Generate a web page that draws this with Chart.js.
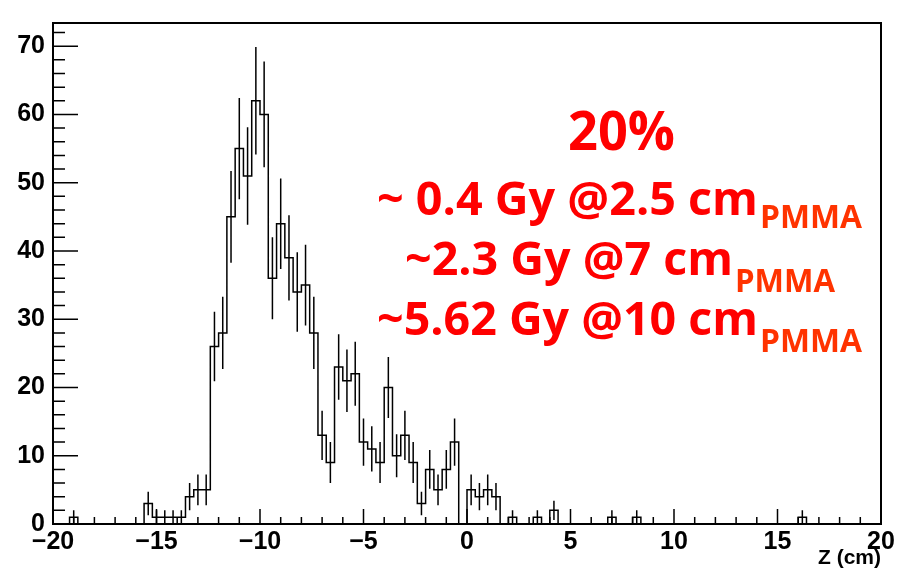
<!DOCTYPE html>
<html>
<head>
<meta charset="utf-8">
<script src="https://cdn.jsdelivr.net/npm/chart.js@4"></script>
<style>
  html, body { margin: 0; padding: 0; background: #fff; }
</style>
</head>
<body>
<canvas id="zChart" width="908" height="579"></canvas>
<script>
// histogram: 100 bins of 0.4 cm from -20 to 20 cm
const xMin = -20;
const xMax = 20;
const binWidth = 0.4;
const counts = [
  0, 0, 1, 0, 0, 0, 0, 0, 0, 0,
  0, 3, 1, 1, 1, 1, 4, 5, 5, 26,
  28, 45, 55, 51, 62, 60, 36, 44, 39, 34,
  35, 28, 13, 9, 23, 21, 22, 12, 11, 9,
  20, 10, 13, 9, 3, 8, 5, 8, 12, 0,
  5, 4, 5, 4, 0, 1, 0, 0, 1, 0,
  2, 0, 0, 0, 0, 0, 0, 1, 0, 0,
  1, 0, 0, 0, 0, 0, 0, 0, 0, 0,
  0, 0, 0, 0, 0, 0, 0, 0, 0, 0,
  1, 0, 0, 0, 0, 0, 0, 0, 0, 0
];
const xTicks = [-20, -15, -10, -5, 0, 5, 10, 15, 20];
const yTicks = [0, 10, 20, 30, 40, 50, 60, 70];
const yMax = 73.4;
const xTitle = 'Z (cm)';
const noteMain = ['20%', '~ 0.4 Gy @2.5 cm', '~2.3 Gy @7 cm', '~5.62 Gy @10 cm'];
const noteSub = ['', 'PMMA', 'PMMA', 'PMMA'];

// outline points at bin low edges, last one closes the final bin
const histPts = counts.map((n, i) => ({ x: xMin + i * binWidth, y: n }));
histPts.push({ x: xMax, y: counts[counts.length - 1] });

// sqrt(N) error bars, separated by gaps
const errPts = [];
counts.forEach((n, i) => {
  if (n <= 0) return;
  const c = xMin + (i + 0.5) * binWidth;
  const e = Math.sqrt(n);
  errPts.push({ x: c, y: n - e }, { x: c, y: n + e }, { x: c, y: null });
});

const axisFont = { family: '"Liberation Sans", Arial, sans-serif', size: 25, weight: 'bold' };

// ROOT style frame with inward ticks
const rootFrame = {
  id: 'rootFrame',
  afterDraw(chart) {
    const { ctx, chartArea: a, scales: { x, y } } = chart;
    ctx.save();
    ctx.strokeStyle = '#000';
    ctx.lineWidth = 1.5;
    ctx.beginPath();
    for (let v = xMin; v <= xMax; v++) {
      const px = x.getPixelForValue(v);
      const len = xTicks.includes(v) ? 15 : 7;
      ctx.moveTo(px, a.bottom);
      ctx.lineTo(px, a.bottom - len);
    }
    for (let v = 0; v <= yMax; v += 2) {
      const py = y.getPixelForValue(v);
      const len = yTicks.includes(v) ? 25 : 12;
      ctx.moveTo(a.left, py);
      ctx.lineTo(a.left + len, py);
    }
    ctx.stroke();
    ctx.lineWidth = 2;
    ctx.strokeRect(a.left, a.top, a.right - a.left, a.bottom - a.top);
    ctx.restore();
  }
};

function fitText(ctx, str, left, right, base, size, color) {
  ctx.font = 'bold ' + size + 'px "Open Sans", sans-serif';
  const w = ctx.measureText(str).width;
  ctx.save();
  ctx.translate(left, base);
  ctx.scale((right - left) / w, 1);
  ctx.fillStyle = color;
  ctx.textAlign = 'left';
  ctx.textBaseline = 'alphabetic';
  ctx.fillText(str, 0, 0);
  ctx.restore();
}

const notes = {
  id: 'notes',
  afterDraw(chart) {
    const ctx = chart.ctx;
    // [left, right, baseline] for each line, main text then subscript
    const mainBox = [[568, 675, 150], [377, 758, 215], [405, 733, 275], [377, 758, 335]];
    const subBox = [null, [760, 862, 228], [735, 835, 292], [760, 862, 352]];
    noteMain.forEach((t, i) => {
      const b = mainBox[i];
      fitText(ctx, t, b[0], b[1], b[2], i === 0 ? 53 : 46, '#ff0000');
      if (noteSub[i]) {
        const s = subBox[i];
        fitText(ctx, noteSub[i], s[0], s[1], s[2], 32, '#ff3300');
      }
    });
  }
};

new Chart(document.getElementById('zChart'), {
  type: 'line',
  data: {
    datasets: [
      {
        data: histPts,
        stepped: true,
        borderColor: '#000',
        borderWidth: 1.5,
        pointRadius: 0,
        fill: false
      },
      {
        data: errPts,
        borderColor: '#000',
        borderWidth: 1.5,
        pointRadius: 0,
        spanGaps: false,
        fill: false
      }
    ]
  },
  options: {
    responsive: false,
    animation: false,
    events: [],
    layout: { padding: { top: 5, right: 27, left: 0, bottom: 0 } },
    plugins: { legend: { display: false }, tooltip: { enabled: false } },
    scales: {
      x: {
        type: 'linear',
        min: xMin,
        max: xMax,
        grid: { display: false, drawTicks: false },
        border: { display: false },
        afterFit: s => { s.height = 55; },
        afterBuildTicks: s => { s.ticks = xTicks.map(v => ({ value: v })); },
        ticks: {
          font: axisFont,
          color: '#000',
          padding: 3,
          maxRotation: 0,
          autoSkip: false,
          callback: v => (v < 0 ? '\u2212' + (-v) : String(v))
        },
        title: {
          display: true,
          text: xTitle,
          align: 'end',
          color: '#000',
          font: { family: axisFont.family, size: 21, weight: 'bold' },
          padding: { top: 0, bottom: 8 }
        }
      },
      y: {
        type: 'linear',
        min: 0,
        max: yMax,
        grid: { display: false, drawTicks: false },
        border: { display: false },
        afterFit: s => { s.width = 53; },
        afterBuildTicks: s => { s.ticks = yTicks.map(v => ({ value: v })); },
        ticks: { font: axisFont, color: '#000', padding: 8 }
      }
    }
  },
  plugins: [rootFrame, notes]
});
</script>
</body>
</html>
